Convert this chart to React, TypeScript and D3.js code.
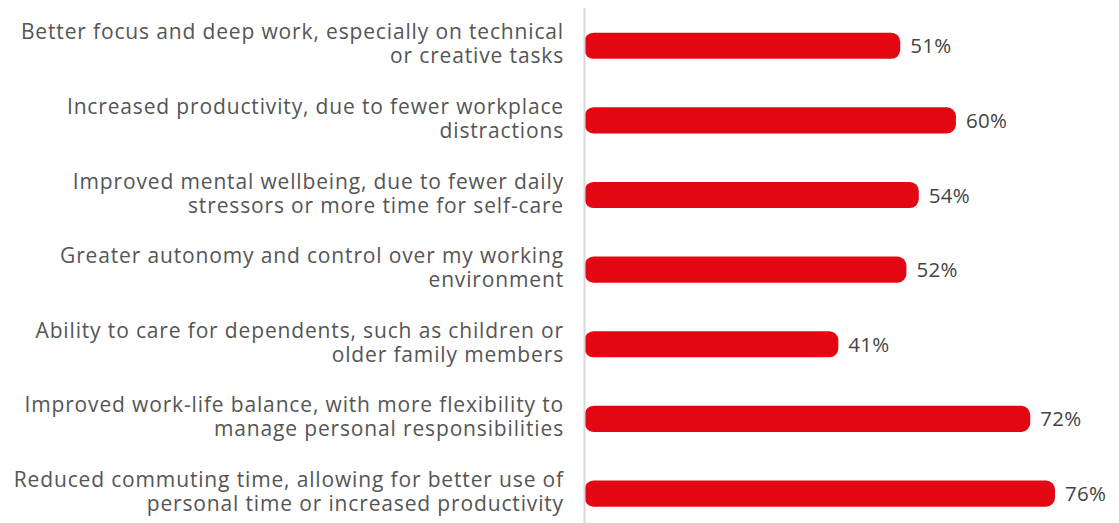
import React from "react";
import * as d3 from "d3";

const categories: string[][] = [
  ["Better focus and deep work, especially on technical", "or creative tasks"],
  ["Increased productivity, due to fewer workplace", "distractions"],
  ["Improved mental wellbeing, due to fewer daily", "stressors or more time for self-care"],
  ["Greater autonomy and control over my working", "environment"],
  ["Ability to care for dependents, such as children or", "older family members"],
  ["Improved work-life balance, with more flexibility to", "manage personal responsibilities"],
  ["Reduced commuting time, allowing for better use of", "personal time or increased productivity"],
];
const values: number[] = [51, 60, 54, 52, 41, 72, 76];
const valueLabels: string[] = ["51%", "60%", "54%", "52%", "41%", "72%", "76%"];

const W = 1119;
const H = 523;
const axisX = 584.5;

export default function App() {
  const idx = d3.range(values.length);
  const y = d3
    .scaleBand<number>()
    .domain(idx)
    .range([8.4, 530.9])
    .paddingInner(0.65)
    .paddingOuter(0.325);
  const x = d3.scaleLinear().domain([0, 76]).range([axisX, 1055]);
  const bh = y.bandwidth();
  const font = "'Open Sans', sans-serif";
  return (
    <svg
      width={W}
      height={H}
      style={{ position: "absolute", left: 0, top: 0, display: "block", background: "#fff" }}
    >
      {idx.map((i) => {
        const cy = (y(i) as number) + bh / 2;
        const x0 = x(0);
        const x1 = x(values[i]);
        const r = 9;
        const top = cy - bh / 2;
        const bot = cy + bh / 2;
        const p = d3.path();
        p.moveTo(x0, top + r);
        p.arcTo(x0, top, x0 + r, top, r);
        p.lineTo(x1 - r, top);
        p.arcTo(x1, top, x1, top + r, r);
        p.lineTo(x1, bot - r);
        p.arcTo(x1, bot, x1 - r, bot, r);
        p.lineTo(x0 + r, bot);
        p.arcTo(x0, bot, x0, bot - r, r);
        p.closePath();
        return (
          <g key={i}>
            <path d={p.toString()} fill="#e30613" />
            <text
              x={x1 + 10}
              y={cy + 7.5}
              fontFamily={font}
              fontSize={20.5}
              letterSpacing={0.3}
              fill="#444"
            >
              {valueLabels[i]}
            </text>
            {categories[i].map((line, j) => (
              <text
                key={j}
                x={564}
                y={cy - 6.5 + j * 24}
                textAnchor="end"
                fontFamily={font}
                fontSize={21}
                letterSpacing={0.85}
                fill="#555"
              >
                {line}
              </text>
            ))}
          </g>
        );
      })}
      <line x1={axisX} x2={axisX} y1={8} y2={H} stroke="#d9d9d9" strokeWidth={2} />
    </svg>
  );
}
